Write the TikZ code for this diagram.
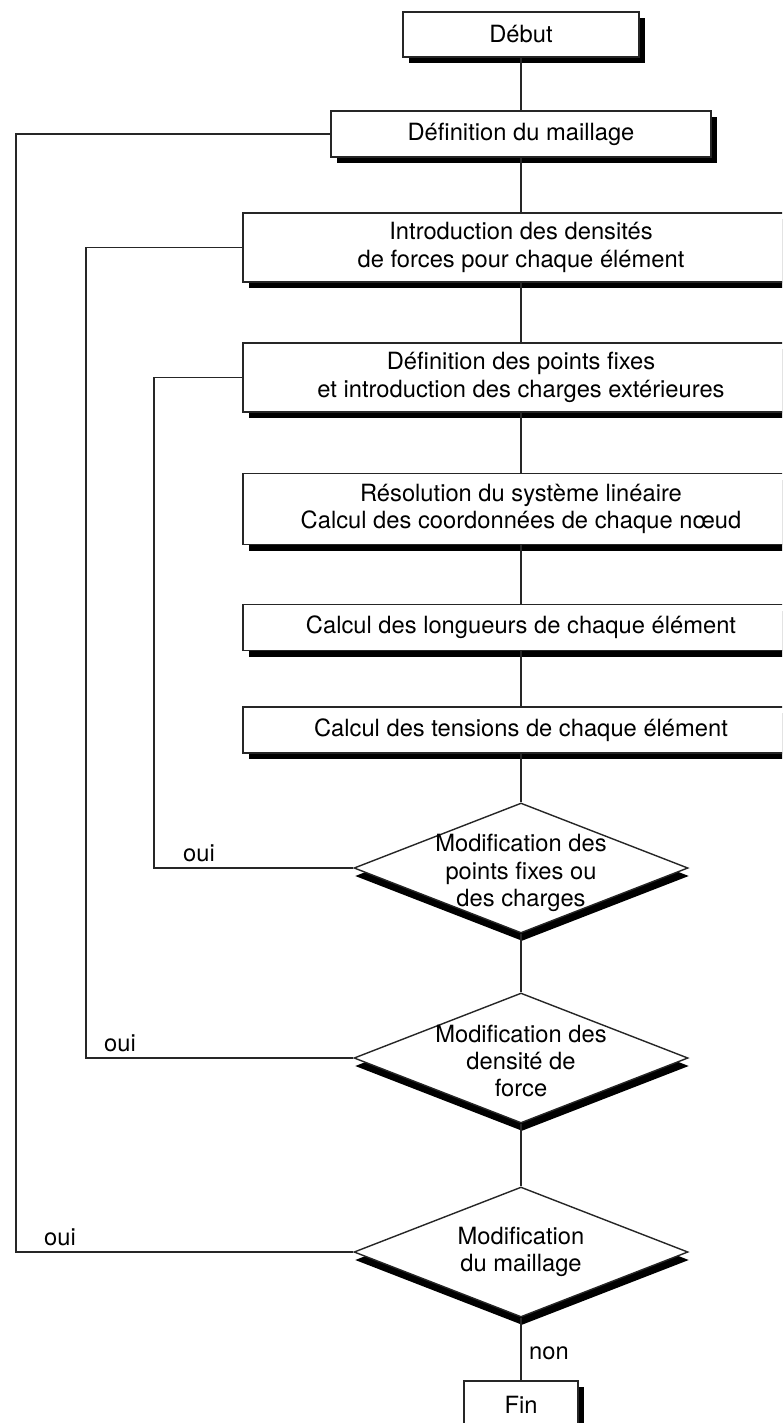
\documentclass[tikz,border=0pt]{standalone}
\usepackage{fontspec}
\setmainfont{TeX Gyre Heros}
\usepackage{tikz}
\usetikzlibrary{positioning,calc,shapes.geometric,shadows}

\tikzset{
  box/.style={draw=black!85, line width=0.8pt, fill=white, align=center, inner sep=0pt,
    minimum height=0.92cm,
    drop shadow={shadow xshift=0.12cm, shadow yshift=-0.12cm, fill=black, opacity=1}},
  widebox/.style={box, minimum width=11.12cm, minimum height=1.38cm},
  decision/.style={diamond, draw=black!85, line width=0.8pt, fill=white, inner sep=0pt,
    minimum width=6.68cm, minimum height=2.60cm,
    drop shadow={shadow xshift=0.02cm, shadow yshift=-0.16cm, fill=black, opacity=1}},
  dtext/.style={align=center, inner sep=0pt},
  link/.style={draw=black!85, line width=0.8pt},
}

\begin{document}
\begin{tikzpicture}[font=\fontsize{13.5}{15.5}\selectfont]
		\useasboundingbox (0,0) rectangle (15.64,-28.46);
		\clip (0,0) rectangle (15.64,-28.46);
		
		\coordinate (loopA) at (0.32,0);
		\coordinate (loopB) at (1.72,0);
		\coordinate (loopC) at (3.08,0);
		
		\node[box, minimum width=4.72cm, minimum height=0.90cm] (debut) at (10.42,-0.69) {Début};
		\node[box, minimum width=7.60cm] (maillage) at (10.42,-2.68) {Définition du maillage};
		\node[widebox] (densites) at (10.42,-4.95) {Introduction des densités\\de forces pour chaque élément};
		\node[widebox] (fixes) at (10.42,-7.55) {Définition des points fixes\\et introduction des charges extérieures};
		\node[widebox, minimum height=1.42cm] (systeme) at (10.42,-10.18) {Résolution du système linéaire\\Calcul des coordonnées de chaque nœud};
		\node[box, minimum width=11.12cm] (longueurs) at (10.42,-12.55) {Calcul des longueurs de chaque élément};
		\node[box, minimum width=11.12cm] (tensions) at (10.42,-14.60) {Calcul des tensions de chaque élément};
		
		\node[decision] (modfixes) at (10.42,-17.36) {};
		\node[dtext] (modfixest) at (10.42,-17.46) {Modification des\\points fixes ou\\des charges};
		\node[decision] (moddensite) at (10.42,-21.16) {};
		\node[dtext] (moddensitet) at (10.42,-21.22) {Modification des\\densité de\\force};
		\node[decision] (modmaillage) at (10.42,-25.04) {};
		\node[dtext] (modmaillaget) at (10.42,-25.04) {Modification\\du maillage};
		
		\node[box, minimum width=2.28cm, minimum height=0.96cm] (fin) at (10.42,-28.10) {Fin};
		
		\draw[link] (debut) -- (maillage);
		\draw[link] (maillage) -- (densites);
		\draw[link] (densites) -- (fixes);
		\draw[link] (fixes) -- (systeme);
		\draw[link] (systeme) -- (longueurs);
		\draw[link] (longueurs) -- (tensions);
		\draw[link] (tensions) -- (modfixes);
		\draw[link] (modfixes) -- (moddensite);
		\draw[link] (moddensite) -- (modmaillage);
		\draw[link] (modmaillage) -- (fin);
		
		\draw[link] (modfixes.west) -- (modfixes.west -| loopC) |- (fixes.west);
		\draw[link] (moddensite.west) -- (moddensite.west -| loopB) |- (densites.west);
		\draw[link] (modmaillage.west) -- (modmaillage.west -| loopA) |- (maillage.west);
		
		\node (ouiC) at (3.98,-17.06) {oui};
		\node (ouiB) at (2.40,-20.86) {oui};
		\node (ouiA) at (1.20,-24.74) {oui};
		\node (non) at (10.98,-27.06) {non};
	\end{tikzpicture}
\end{document}
